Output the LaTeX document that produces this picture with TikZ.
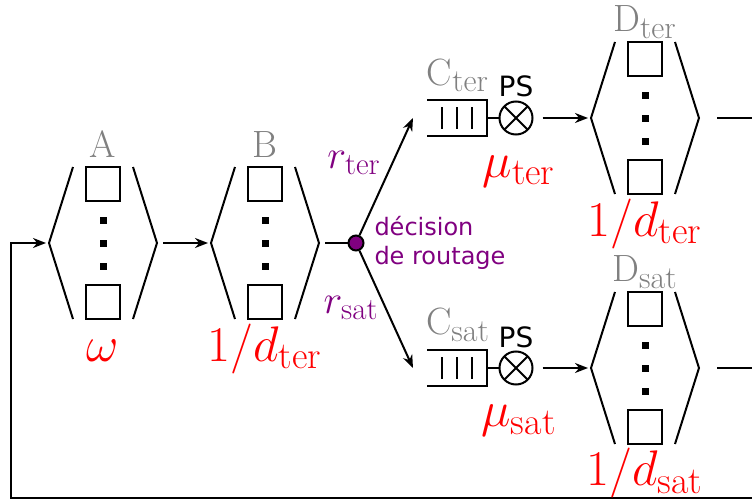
\RequirePackage{fix-cm}
\documentclass[tikz,border=0pt]{standalone}
\usepackage{fontspec}
\usepackage{tikz}
\usetikzlibrary{arrows.meta,positioning}

\newfontfamily\psfont{DejaVu Sans}
\definecolor{routepurple}{RGB}{128,0,128}

\DeclareMathSizes{25}{25}{19}{14}
\DeclareMathSizes{20}{20}{15.5}{12}
\DeclareMathSizes{19}{19}{16}{12}

\tikzset{
	station/.pic={
		\draw (-30,-76) -- (-54,0) -- (-30,76);
		\draw (30,-76) -- (54,0) -- (30,76);
		\draw (-17,-76) rectangle (17,-42);
		\draw (-17,42) rectangle (17,76);
		\foreach \y in {-23,0,23} { \fill (-3.5,\y-3.5) rectangle (3.5,\y+3.5); }
		\coordinate (-in) at (-57,0);
		\coordinate (-out) at (60,0);
		\coordinate (-name) at (0,-86);
		\coordinate (-rate) at (0,118);
	},
	queue/.pic={
		\draw (-30,-18) -- (30,-18) -- (30,18) -- (-30,18);
		\foreach \x in {-15,0,15} { \draw (\x,-11) -- (\x,11); }
		\node[server] (-srv) at (59,0) {};
		\draw (30,0) -- (-srv);
		\coordinate (-in) at (-44,0);
		\coordinate (-name) at (1,-33);
		\coordinate (-ps) at (59,-21);
		\coordinate (-rate) at (62,59);
	},
	server/.style={draw, circle, minimum size=16.5pt, inner sep=0pt,
		path picture={\draw (path picture bounding box.north west) -- (path picture bounding box.south east)
			(path picture bounding box.north east) -- (path picture bounding box.south west);}},
	decision/.style={draw, circle, fill=routepurple, minimum size=7.5pt, inner sep=0pt},
	stationname/.style={text=gray, font=\fontsize{19}{22}\selectfont, anchor=base},
	ratelabel/.style={text=red, font=\fontsize{25}{29}\selectfont, anchor=base},
	proba/.style={text=routepurple, font=\fontsize{20}{24}\selectfont},
	pslabel/.style={font=\psfont\fontsize{14}{16}\selectfont, anchor=base},
}

\begin{document}
\begin{tikzpicture}[x=0.5pt,y=-0.5pt,line width=1pt,>={Stealth[length=6.5pt,width=5pt]}]

% frame %{{{2

	\useasboundingbox (0,0) rectangle (752,503);

% stations %{{{2

	\pic (A) at (103,243) {station};
	\pic (B) at (265,243) {station};
	\pic (Dter) at (645,118) {station};
	\pic (Dsat) at (645,368) {station};

% queues %{{{2

	\pic (Cter) at (457,118) {queue};
	\pic (Csat) at (457,368) {queue};

% routing %{{{2

	\node[decision] (dec) at (356,243) {};
	\node[right=4.5pt of dec, inner sep=0pt, align=left, text=routepurple,
		font=\psfont\fontsize{12}{14.5}\selectfont] (dectext) {décision\\de routage};

% free ends %{{{2

	\coordinate (Dter-tail) at (717,118);
	\coordinate (Dter-end) at (752,118);
	\coordinate (Dsat-tail) at (717,368);
	\coordinate (Dsat-end) at (752,368);
	\coordinate (loop-r) at (752,498);
	\coordinate (loop-l) at (11,498);

% connectors %{{{2

	\draw[->] (A-out) -- (B-in);
	\draw (B-out) -- (dec);
	\draw[->] (dec) -- (Cter-in);
	\draw[->] (dec) -- (Csat-in);
	\draw[->, shorten <=4.5pt] (Cter-srv) -- (Dter-in);
	\draw[->, shorten <=4.5pt] (Csat-srv) -- (Dsat-in);
	\draw (Dter-tail) -- (Dter-end);
	\draw (Dsat-tail) -- (Dsat-end);
	\draw[->] (loop-r) -- (loop-l) |- (A-in);

% labels %{{{2

	\node[stationname] (Aname) at (A-name) {A};
	\node[stationname] (Bname) at (B-name) {B};
	\node[stationname] (Cname-ter) at (Cter-name) {$\mathrm{C}_{\mathrm{ter}}$};
	\node[stationname] (Cname-sat) at (Csat-name) {$\mathrm{C}_{\mathrm{sat}}$};
	\node[stationname] (Dname-ter) at (Dter-name) {$\mathrm{D}_{\mathrm{ter}}$};
	\node[stationname] (Dname-sat) at (Dsat-name) {$\mathrm{D}_{\mathrm{sat}}$};

	\node[pslabel] (ps-ter) at (Cter-ps) {PS};
	\node[pslabel] (ps-sat) at (Csat-ps) {PS};

	\node[ratelabel] (rate-A) at (A-rate) {$\omega$};
	\node[ratelabel] (rate-B) at (B-rate) {$1/d_{\mathrm{ter}}$};
	\node[ratelabel] (rate-Cter) at (Cter-rate) {$\mu_{\mathrm{ter}}$};
	\node[ratelabel] (rate-Csat) at (Csat-rate) {$\mu_{\mathrm{sat}}$};
	\node[ratelabel] (rate-Dter) at (Dter-rate) {$1/d_{\mathrm{ter}}$};
	\node[ratelabel] (rate-Dsat) at (Dsat-rate) {$1/d_{\mathrm{sat}}$};

	\node[proba] (r-ter) at (354,163) {$r_{\mathrm{ter}}$};
	\node[proba] (r-sat) at (351,308) {$r_{\mathrm{sat}}$};

% closing %{{{2

\end{tikzpicture}
\end{document}
